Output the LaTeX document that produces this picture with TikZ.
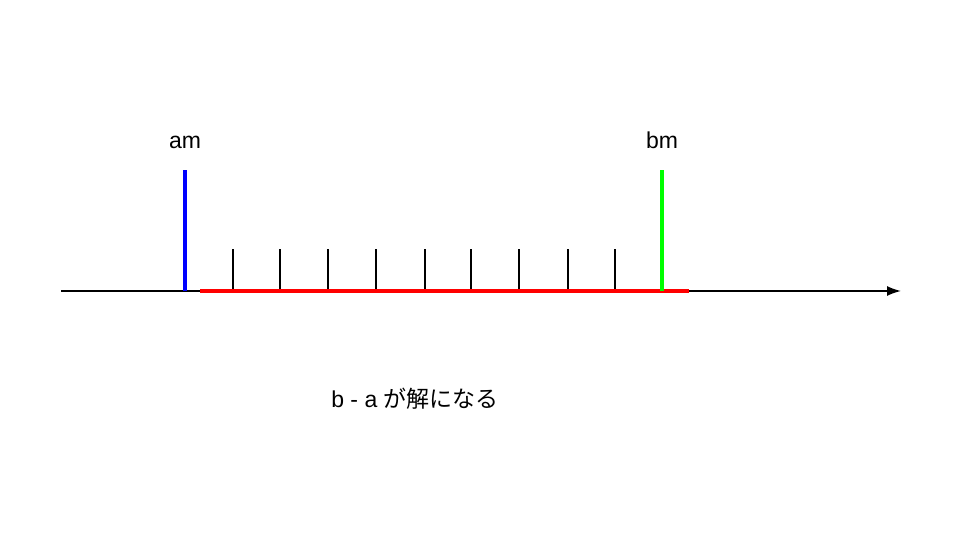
\documentclass[tikz,border=0pt]{standalone}
\usepackage{fontspec}
\setmainfont{Liberation Sans}
\newfontfamily\jpfont{Noto Sans CJK JP}
\usetikzlibrary{arrows.meta}
\begin{document}
\begin{tikzpicture}[x=1pt, y=1pt, font=\fontsize{23}{28}\selectfont]
  \useasboundingbox (0,0) rectangle (960,540);
  \draw[line width=1.6pt, -{Latex[length=14pt,width=10pt]}] (61,249) -- (901,249);
  \foreach \x in {233,280,328,376,425,471,519,568,615}
    \draw[line width=1.5pt] (\x,249) -- (\x,291);
  \draw[red, line width=4pt] (200,249) -- (689,249);
  \draw[blue, line width=4pt] (185,249) -- (185,370);
  \draw[green, line width=4pt] (662,249) -- (662,370);
  \node[anchor=base] (am) at (185,391) {am};
  \node[anchor=base] (bm) at (662,391) {bm};
  \node (ans) at (415,141) {b - a {\jpfont が解になる}};
\end{tikzpicture}
\end{document}
